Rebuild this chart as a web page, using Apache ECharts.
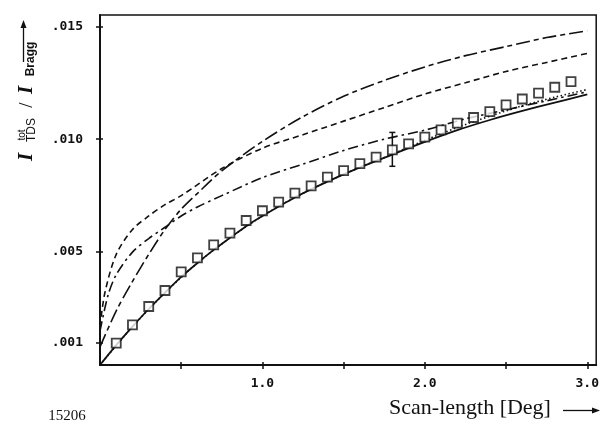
<!DOCTYPE html>
<html><head><meta charset="utf-8">
<script src="https://cdn.jsdelivr.net/npm/echarts@6/dist/echarts.min.js"></script>
<style>html,body{margin:0;padding:0;background:#fff}#c{width:602px;height:424px}</style>
</head><body><div id="c"></div>
<script>
// ---- data ----
const squareX = [0.1,0.2,0.3,0.4,0.5,0.6,0.7,0.8,0.9,1.0,1.1,1.2,1.3,1.4,1.5,1.6,1.7,1.8,1.9,2.0,2.1,2.2,2.3,2.4,2.5,2.6,2.7,2.8,2.9];
const squareY = [0.00097,0.00178,0.00259,0.00330,0.00412,0.00474,0.00532,0.00584,0.00640,0.00683,0.00721,0.00761,0.00793,0.00832,0.00861,0.00892,0.00921,0.00953,0.00979,0.01009,0.01041,0.01071,0.01096,0.01122,0.01152,0.01178,0.01204,0.01230,0.01255];
const errX = [1.8];
const errLow = [0.0088];
const errHigh = [0.0103];

const solidX = [0,0.1,0.2,0.3,0.4,0.5,0.6,0.7,0.8,0.9,1.0,1.2,1.4,1.6,1.8,2.0,2.2,2.4,2.6,2.8,3.0];
const solidY = [0,0.00088,0.00170,0.00248,0.00320,0.00390,0.00452,0.00510,0.00563,0.00615,0.00660,0.00742,0.00812,0.00875,0.00932,0.00988,0.01040,0.01085,0.01125,0.01162,0.01198];
const dottedX = [0,0.2,0.4,0.6,0.8,1.0,1.2,1.4,1.6,1.8,2.0,2.2,2.4,2.6,2.8,3.0];
const dottedY = [0,0.00170,0.00320,0.00452,0.00563,0.00660,0.00742,0.00812,0.00875,0.00934,0.00995,0.01052,0.01102,0.01148,0.01186,0.01220];

const dashX = [0,0.03,0.1,0.2,0.3,0.4,0.5,0.75,1.0,1.25,1.5,1.75,2.0,2.25,2.5,2.75,3.0];
const dashY = [0.0017,0.0032,0.0049,0.0060,0.0066,0.0071,0.0075,0.0087,0.0096,0.0102,0.0108,0.0114,0.0120,0.0125,0.0130,0.0134,0.0138];

const dashDotX = [0,0.05,0.1,0.2,0.3,0.4,0.5,0.6,0.75,1.0,1.25,1.5,1.75,2.0,2.25,2.5,2.75,3.0];
const dashDotY = [0.0015,0.0031,0.0040,0.0050,0.0056,0.0061,0.0066,0.0070,0.0075,0.0083,0.0089,0.0095,0.0100,0.0104,0.0109,0.0113,0.0117,0.0121];

const longDashX = [0,0.1,0.2,0.3,0.4,0.5,0.6,0.75,1.0,1.25,1.5,1.75,2.0,2.25,2.5,2.75,3.0];
const longDashY = [0.0008,0.0024,0.0037,0.0049,0.0060,0.0069,0.0076,0.0086,0.0099,0.0110,0.0119,0.0126,0.0132,0.0137,0.0141,0.0145,0.0148];

const xTickValues = [0.5,1.0,1.5,2.0,2.5,3.0];
const xLabelValues = [1.0,2.0,3.0];
const yTickValues = [0.001,0.005,0.010,0.015];
const yTickLabels = ['.001','.005','.010','.015'];

// ---- chart ----
const zip = (xs, ys) => xs.map((x,i)=>[x, ys[i]]);
const chart = echarts.init(document.getElementById('c'), null, {renderer:'canvas'});
const monoFont = {fontFamily:'DejaVu Sans Mono', fontSize:13, fontWeight:'bold', color:'#111'};
const lineSeries = (name, xs, ys, type, w) => ({
  name, type:'line', data: zip(xs, ys), smooth: 0.3, showSymbol:false, silent:true,
  lineStyle:{color:'#111', width:w, type}, z:2
});

const option = {
  animation:false,
  backgroundColor:'#fff',
  grid:{left:100, right:3, top:15, bottom:59, show:true, borderColor:'#111', borderWidth:1.5},
  xAxis:[{
    type:'value', min:0, max:3.055,
    axisLine:{show:true, lineStyle:{color:'#111', width:2}},
    axisTick:{show:true, length:4, customValues:xTickValues, lineStyle:{color:'#111', width:1.5}},
    axisLabel:{...monoFont, margin:12, customValues:xLabelValues, formatter:v=>v.toFixed(1)},
    splitLine:{show:false}
  },{
    type:'value', min:0, max:3.055, position:'bottom',
    axisLine:{show:false},
    axisTick:{show:true, inside:true, length:3, customValues:xTickValues, lineStyle:{color:'#111', width:1.5}},
    axisLabel:{show:false}, splitLine:{show:false}
  }],
  yAxis:[{
    type:'value', min:0, max:0.0155,
    axisLine:{show:true, lineStyle:{color:'#111', width:2}},
    axisTick:{show:true, length:4, customValues:yTickValues, lineStyle:{color:'#111', width:1.5}},
    axisLabel:{...monoFont, margin:17, customValues:yTickValues,
      formatter:v=>{const i=yTickValues.findIndex(t=>Math.abs(t-v)<1e-9); return i>=0?yTickLabels[i]:'';}},
    splitLine:{show:false}
  },{
    type:'value', min:0, max:0.0155, position:'left',
    axisLine:{show:false},
    axisTick:{show:true, inside:true, length:3, customValues:yTickValues, lineStyle:{color:'#111', width:1.5}},
    axisLabel:{show:false}, splitLine:{show:false}
  }],
  series:[
    lineSeries('dotted', dottedX, dottedY, [1.5,2.5], 1.6),
    lineSeries('solid', solidX, solidY, 'solid', 1.8),
    lineSeries('dash', dashX, dashY, [6,4], 1.6),
    lineSeries('dashdot', dashDotX, dashDotY, [10,4,2.5,4], 1.6),
    lineSeries('longdashdot', longDashX, longDashY, [14,4,5,4], 1.6),
    {
      name:'err', type:'custom', silent:true, z:4,
      data: errX.map((x,i)=>[x, errLow[i], errHigh[i]]),
      renderItem:(params, api)=>{
        const lo = api.coord([api.value(0), api.value(1)]);
        const hi = api.coord([api.value(0), api.value(2)]);
        const st = {stroke:'#111', lineWidth:1.5};
        return {type:'group', children:[
          {type:'line', shape:{x1:lo[0],y1:lo[1],x2:hi[0],y2:hi[1]}, style:st},
          {type:'line', shape:{x1:lo[0]-3,y1:lo[1],x2:lo[0]+3,y2:lo[1]}, style:st},
          {type:'line', shape:{x1:hi[0]-3,y1:hi[1],x2:hi[0]+3,y2:hi[1]}, style:st}
        ]};
      }
    },
    {
      name:'squares', type:'scatter', data: zip(squareX, squareY), symbol:'rect', symbolSize:9, silent:true, z:5,
      itemStyle:{color:'#fff', borderColor:'#111', borderWidth:1.8}
    }
  ],
  graphic:[
    // y axis title (rotated)
    {type:'text', x:27, y:157, rotation:Math.PI/2, style:{text:'I', font:'italic bold 21px "Liberation Serif"', fill:'#111', align:'center', verticalAlign:'middle'}},
    {type:'text', x:22.5, y:135, rotation:Math.PI/2, style:{text:'tot', font:'10px "Liberation Sans"', fill:'#111', align:'center', verticalAlign:'middle'}},
    {type:'text', x:31.5, y:130, rotation:Math.PI/2, style:{text:'TDS', font:'12px "Liberation Sans"', fill:'#111', align:'center', verticalAlign:'middle'}},
    {type:'text', x:27, y:105, rotation:Math.PI/2, style:{text:'/', font:'19px "Liberation Serif"', fill:'#111', align:'center', verticalAlign:'middle'}},
    {type:'text', x:27, y:90, rotation:Math.PI/2, style:{text:'I', font:'italic bold 21px "Liberation Serif"', fill:'#111', align:'center', verticalAlign:'middle'}},
    {type:'text', x:31, y:59, rotation:Math.PI/2, style:{text:'Bragg', font:'bold 12px "Liberation Sans"', fill:'#111', align:'center', verticalAlign:'middle'}},
    {type:'line', shape:{x1:23.5,y1:62,x2:23.5,y2:25}, style:{stroke:'#111', lineWidth:1.3}},
    {type:'polygon', shape:{points:[[23.5,20],[20.5,28],[26.5,28]]}, style:{fill:'#111'}},
    // x axis title
    {type:'text', x:470, y:408, style:{text:'Scan-length [Deg]', font:'22px "Liberation Serif"', fill:'#111', align:'center', verticalAlign:'middle'}},
    {type:'line', shape:{x1:563,y1:410.5,x2:594,y2:410.5}, style:{stroke:'#111', lineWidth:1.3}},
    {type:'polygon', shape:{points:[[600,410.5],[592,407.5],[592,413.5]]}, style:{fill:'#111'}},
    // figure number
    {type:'text', x:67, y:416, style:{text:'15206', font:'15px "Liberation Serif"', fill:'#111', align:'center', verticalAlign:'middle'}}
  ]
};
chart.setOption(option);
</script>
</body></html>
